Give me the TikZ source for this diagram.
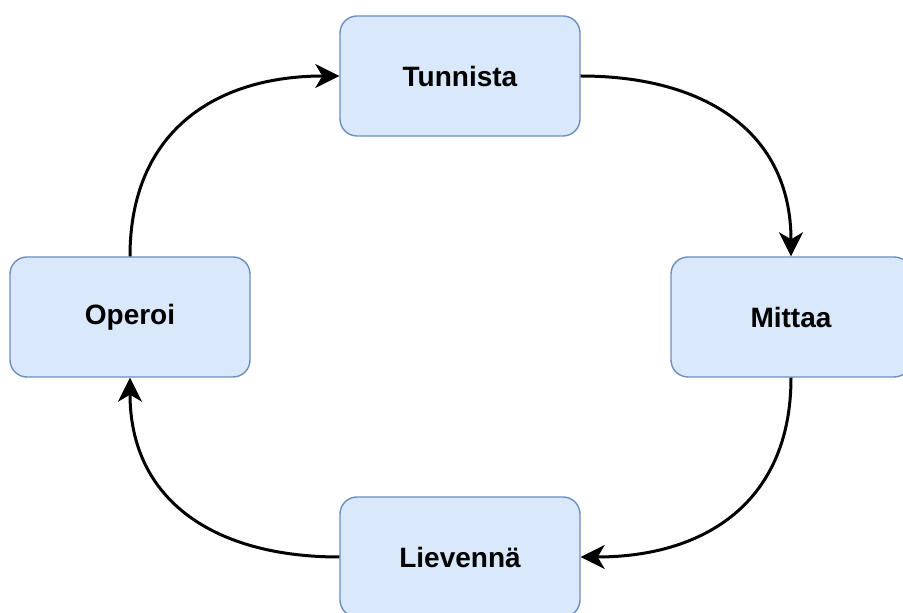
\documentclass[tikz,border=0pt]{standalone}
\usepackage{fontspec}
\setmainfont{Liberation Sans}
\usetikzlibrary{arrows.meta}
\definecolor{boxfill}{HTML}{DAE8FC}
\definecolor{boxline}{HTML}{6C8EBF}
\begin{document}
\begin{tikzpicture}[x=1pt,y=1pt,
  stepbox/.style={draw=boxline, fill=boxfill, line width=1.4pt, rounded corners=17pt,
    minimum width=240pt, minimum height=120pt, inner sep=0pt,
    font=\fontsize{28}{32}\selectfont\bfseries},
  flow/.style={line width=3pt, looseness=1.15, -{Stealth[length=24pt,width=24pt,inset=7pt]}}]
\useasboundingbox (0,0) rectangle (903,613);
\node[stepbox] (t) at (460,537) {Tunnista};
\node[stepbox] (m) at (791,296) {Mittaa};
\node[stepbox] (o) at (130,296) {Operoi};
\node[stepbox] (l) at (460,56) {Lievennä};
\draw[flow] (t.east) to[out=0,in=90] (m.north);
\draw[flow] (m.south) to[out=-90,in=0] (l.east);
\draw[flow] (l.west) to[out=180,in=-90] (o.south);
\draw[flow] (o.north) to[out=90,in=180] (t.west);
\end{tikzpicture}
\end{document}
